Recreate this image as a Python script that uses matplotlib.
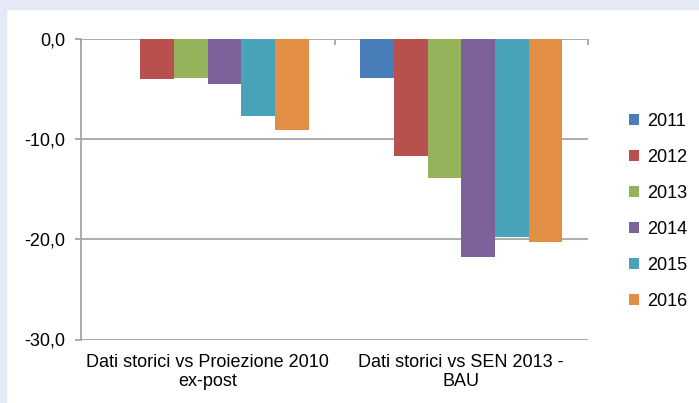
import numpy as np
import matplotlib
matplotlib.use('Agg')
import matplotlib.pyplot as plt
from matplotlib.patches import Rectangle

#---------------------------------- DATA -----------------------------------
categories = ['Dati storici vs Proiezione 2010\nex-post', 'Dati storici vs SEN 2013 -\nBAU']
years = ['2011', '2012', '2013', '2014', '2015', '2016']
v2011 = [0.0, -3.9]
v2012 = [-4.0, -11.7]
v2013 = [-3.9, -13.9]
v2014 = [-4.5, -21.8]
v2015 = [-7.7, -19.8]
v2016 = [-9.1, -20.3]
series = [v2011, v2012, v2013, v2014, v2015, v2016]
colors = ['#4A7EBB', '#B8504D', '#94B35A', '#7D619B', '#48A3B8', '#E38E45']
yticks = [0, -10, -20, -30]

plt.rcParams['font.family'] = ['Liberation Sans', 'DejaVu Sans']
fs = 13
fig = plt.figure(figsize=(6.99, 4.03), dpi=100)
fig.patch.set_facecolor('white')
W, H = 699., 403.
band = '#E4E9F5'
fig.patches.append(Rectangle((0, 1-9/H), 1, 9/H, transform=fig.transFigure, color=band, zorder=0))
fig.patches.append(Rectangle((0, 0), 6/W, 1, transform=fig.transFigure, color=band, zorder=0))

ax = fig.add_axes([81/W, 1-339.5/H, (588-81)/W, (339.5-39)/H])
ax.set_facecolor('none')
x = np.arange(len(categories))
bw = 0.133
for kk, vals in enumerate(series):
    ax.bar(x+(kk-2.5)*bw, vals, bw, color=colors[kk], label=years[kk], zorder=3, lw=0)

ax.set_xlim(-0.5, 1.5)
ax.set_ylim(-30, 0)
ax.set_yticks(yticks)
ax.set_yticklabels([('%.1f' % v).replace('.', ',') for v in yticks], fontsize=fs)
ax.yaxis.grid(True, color='#A6A6A6', lw=1.3, zorder=1)
for s in ['top', 'right', 'bottom']:
    ax.spines[s].set_visible(False)
ax.spines['left'].set_color('#A6A6A6')
ax.spines['left'].set_linewidth(1.3)
ax.tick_params(axis='y', length=4.3, width=1.3, color='#A6A6A6', pad=7)
ax.set_xticks([])
ax.set_xticks([-0.5, 0.5, 1.5], minor=True)
ax.tick_params(axis='x', which='minor', top=True, bottom=False, direction='in',
               length=4, width=1.3, color='#A6A6A6', labeltop=False, labelbottom=False)
for i, c in enumerate(categories):
    ax.text(x[i], -0.047, c, transform=ax.get_xaxis_transform(), ha='center', va='top',
            fontsize=fs, linespacing=1.15)

leg = ax.legend(loc='upper left', bbox_to_anchor=(622/W, 1-105.5/H), bbox_transform=fig.transFigure,
                frameon=False, fontsize=fs, handlelength=0.55, handleheight=0.55,
                handletextpad=0.45, labelspacing=1.05, borderaxespad=0)

fig.savefig('out.png', dpi=100)
